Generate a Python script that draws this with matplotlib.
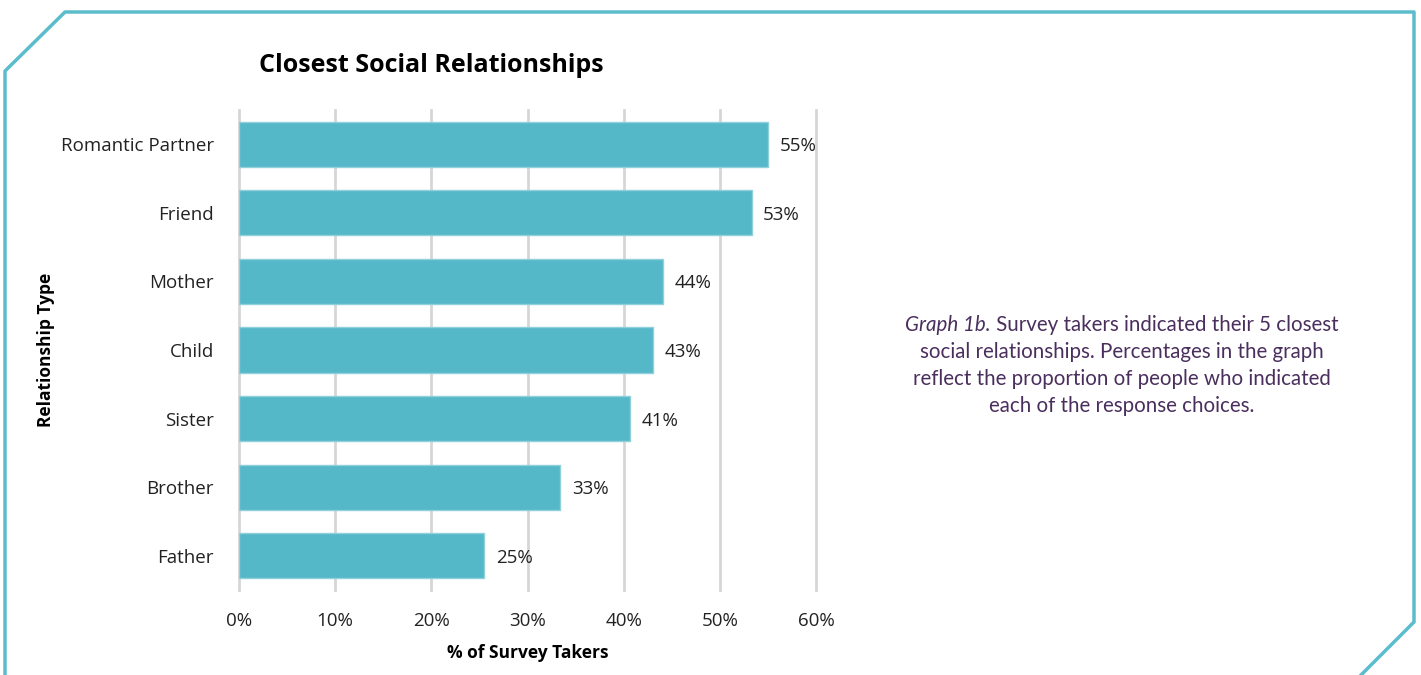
import matplotlib.pyplot as plt
from matplotlib.lines import Line2D

categories = ['Romantic Partner', 'Friend', 'Mother', 'Child', 'Sister', 'Brother', 'Father']
values = [55.0, 53.3, 44.1, 43.1, 40.7, 33.4, 25.5]
labels = ['55%', '53%', '44%', '43%', '41%', '33%', '25%']
xticks = [0, 10, 20, 30, 40, 50, 60]

W, H = 1421, 675
plt.rcParams['font.family'] = ['Open Sans', 'DejaVu Sans']

fig = plt.figure(figsize=(W / 100, H / 100), dpi=100)
# axes box in pixels: left 239, right 816, top 110, bottom 590
ax = fig.add_axes([239 / W, 1 - 590 / H, (816 - 239) / W, (590 - 110) / H])

ypos = list(range(len(categories)))
ax.barh(ypos, values, height=0.66, color='#55b8c8', edgecolor='#8fd0da', linewidth=1, zorder=3)
for y, v, lab in zip(ypos, values, labels):
    ax.text(v + 1.2, y + 0.03, lab, va='center', ha='left', fontsize=13.5, color='#222222')

ax.set_ylim(6.5, -0.5)
ax.set_xlim(0, 60)
ax.set_yticks(ypos)
ax.set_yticklabels(categories, fontsize=13.5, color='#222222')
ax.set_xticks(xticks)
ax.set_xticklabels([f'{t}%' for t in xticks], fontsize=13.5, color='#222222')
ax.tick_params(length=0, pad=16)
ax.tick_params(axis='y', pad=18)
for t in xticks:
    ax.axvline(t, color='#d6d6d6', linewidth=2, zorder=0, clip_on=False)
for s in ax.spines.values():
    s.set_visible(False)

ax.set_xlabel('% of Survey Takers', fontsize=12.5, fontweight='bold', labelpad=10)
fig.text(46 / W, 1 - 350 / H, 'Relationship Type', rotation=90, ha='center', va='center',
         fontsize=12.5, fontweight='bold')
fig.text(431 / W, 1 - 66 / H, 'Closest Social Relationships', ha='center', va='center',
         fontsize=18, fontweight='bold')

# caption
cap_color = '#4a2f5e'
cap_font = ['Lato', 'DejaVu Sans']
cap_size = 14.8
cap_lines = ['Survey takers indicated their 5 closest',
             'social relationships. Percentages in the graph',
             'reflect the proportion of people who indicated',
             'each of the response choices.']
cx = 1122
renderer = fig.canvas.get_renderer()
t1 = fig.text(0, 1 - 325 / H, 'Graph 1b.', ha='left', va='center', fontsize=cap_size,
              color=cap_color, family=cap_font, style='italic')
t2 = fig.text(0, 1 - 325 / H, ' ' + cap_lines[0], ha='left', va='center', fontsize=cap_size,
              color=cap_color, family=cap_font)
w1 = t1.get_window_extent(renderer).width
w2 = t2.get_window_extent(renderer).width
x0 = cx - (w1 + w2) / 2
t1.set_x(x0 / W)
t2.set_x((x0 + w1) / W)
for i, line in enumerate(cap_lines[1:], start=1):
    fig.text(cx / W, 1 - (325 + 27 * i) / H, line, ha='center', va='center',
             fontsize=cap_size, color=cap_color, family=cap_font)

# teal frame
frame_x = [5, 5, 65, 1414, 1414, 1361]
frame_y = [675, 71, 12, 12, 622, 675]
fig.add_artist(Line2D([x / W for x in frame_x], [1 - y / H for y in frame_y],
                      color='#5bbccb', linewidth=2.5, transform=fig.transFigure))

fig.savefig('out.png', dpi=100)
